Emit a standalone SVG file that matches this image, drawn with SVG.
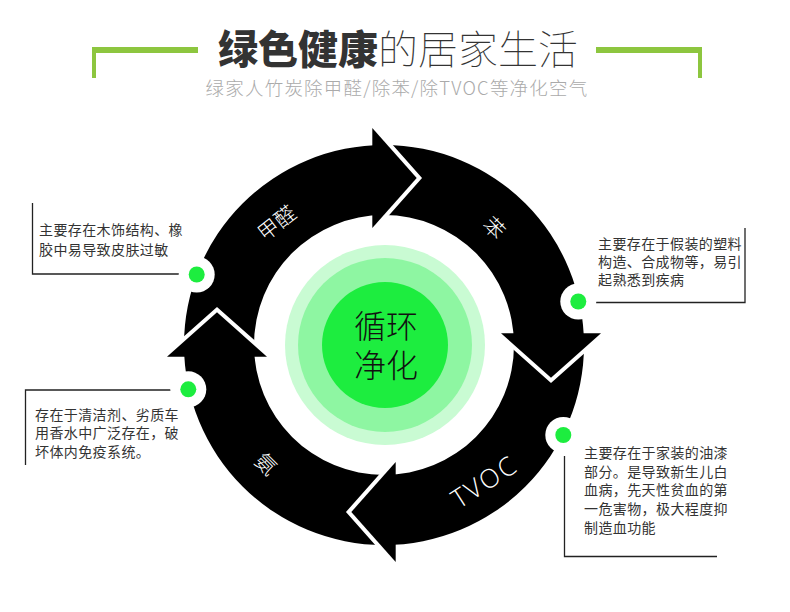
<svg xmlns="http://www.w3.org/2000/svg" width="790" height="612" viewBox="0 0 790 612">
  <style>
    .cjk { font-family: "Noto Sans CJK SC", "Noto Sans", sans-serif; }
    .desc { font-family: "Noto Sans CJK SC", sans-serif; font-size: 14px; fill: #333; letter-spacing: 0.4px; }
    .lbl { font-family: "Noto Sans CJK SC", sans-serif; font-size: 21px; fill: #fff; text-anchor: middle; dominant-baseline: central; }
    .lead { fill: none; stroke: #222; stroke-width: 1.3; }
    .gap { fill: none; stroke: #fff; stroke-width: 8; stroke-linejoin: miter; stroke-miterlimit: 10; }
    .head { fill: #000; }
    .halo { fill: #fff; }
    .dot { fill: #1ded3f; }
    .bracket { fill: #8dc63f; }
  </style>
  <rect width="790" height="612" fill="#fff"/>

  <g id="title">
    <rect class="bracket" x="92" y="47" width="106" height="6"/>
    <rect class="bracket" x="92" y="47" width="4" height="31"/>
    <rect class="bracket" x="596" y="47" width="106" height="6"/>
    <rect class="bracket" x="698" y="47" width="4" height="31"/>
    <text x="218" y="64" class="cjk" font-size="40" fill="#333"><tspan font-weight="900">绿色健康</tspan><tspan font-weight="100">的居家生活</tspan></text>
    <text x="397" y="95" class="cjk" font-size="18.5" fill="#aaa" font-weight="300" text-anchor="middle" letter-spacing="1.2">绿家人竹炭除甲醛/除苯/除TVOC等净化空气</text>
  </g>

  <g id="node-cycle">
    <path d="M584,345 A200,200 0 1,1 184,345 A200,200 0 1,1 584,345 Z M514,345 A130,130 0 1,0 254,345 A130,130 0 1,0 514,345 Z" fill="#000" fill-rule="evenodd"/>
    <g id="head-1">
      <path class="gap" d="M372.3,128 L416.7,178 L372.3,228"/>
      <path class="head" d="M372.3,128 L416.7,178 L372.3,228 Z"/>
    </g>
    <g id="head-2" transform="rotate(90 384 345)">
      <path class="gap" d="M372.3,128 L416.7,178 L372.3,228"/>
      <path class="head" d="M372.3,128 L416.7,178 L372.3,228 Z"/>
    </g>
    <g id="head-3" transform="rotate(180 384 345)">
      <path class="gap" d="M372.3,128 L416.7,178 L372.3,228"/>
      <path class="head" d="M372.3,128 L416.7,178 L372.3,228 Z"/>
    </g>
    <g id="head-4" transform="rotate(270 384 345)">
      <path class="gap" d="M372.3,128 L416.7,178 L372.3,228"/>
      <path class="head" d="M372.3,128 L416.7,178 L372.3,228 Z"/>
    </g>
    <text class="lbl" transform="translate(276 222) rotate(-38)" font-weight="300">甲醛</text>
    <text class="lbl" transform="translate(495 227) rotate(45)" font-weight="300">苯</text>
    <text class="lbl" transform="translate(484 481) rotate(-33)" style="font-family:'Open Sans','Liberation Sans',sans-serif;font-weight:300;font-size:26px;letter-spacing:2px">TVOC</text>
    <text class="lbl" transform="translate(267 463) rotate(45)" font-weight="300">氨</text>
  </g>

  <g id="node-center">
    <circle cx="385" cy="345" r="100" fill="#c9fbd3"/>
    <circle cx="385" cy="345" r="87" fill="#8ef6a2"/>
    <circle cx="385" cy="345" r="63" fill="#1ded3f"/>
    <text class="cjk" font-size="32" font-weight="300" fill="#111" text-anchor="middle"><tspan x="386" y="338">循环</tspan><tspan x="386" y="377">净化</tspan></text>
  </g>

  <g id="connectors">
    <path class="lead" d="M186,274 H32.5 V203"/>
    <path class="lead" d="M593,302.5 H745 V228"/>
    <path class="lead" d="M180,390 H25.5 V465"/>
    <path class="lead" d="M564.5,456 V556.5 H717"/>
  </g>

  <g id="node-dot-1">
    <circle class="halo" cx="196.7" cy="274.5" r="18"/>
    <circle class="dot" cx="196.7" cy="274.5" r="8"/>
  </g>
  <g id="node-dot-2">
    <circle class="halo" cx="578.3" cy="301.5" r="18"/>
    <circle class="dot" cx="578.3" cy="301.5" r="8"/>
  </g>
  <g id="node-dot-3">
    <circle class="halo" cx="563.3" cy="435" r="18"/>
    <circle class="dot" cx="563.3" cy="435" r="8"/>
  </g>
  <g id="node-dot-4">
    <circle class="halo" cx="188.3" cy="389.3" r="18"/>
    <circle class="dot" cx="188.3" cy="389.3" r="8"/>
  </g>

  <g id="node-box-1">
    <text class="desc" x="39" y="235.3">主要存在木饰结构、橡</text>
    <text class="desc" x="39" y="254.6">胶中易导致皮肤过敏</text>
  </g>
  <g id="node-box-2">
    <text class="desc" x="598" y="248.6">主要存在于假装的塑料</text>
    <text class="desc" x="598" y="267">构造、合成物等，易引</text>
    <text class="desc" x="598" y="285.3">起熟悉到疾病</text>
  </g>
  <g id="node-box-3">
    <text class="desc" x="35" y="419.5">存在于清洁剂、劣质车</text>
    <text class="desc" x="35" y="438">用香水中广泛存在，破</text>
    <text class="desc" x="35" y="456.5">坏体内免疫系统。</text>
  </g>
  <g id="node-box-4">
    <text class="desc" x="584" y="457.6">主要存在于家装的油漆</text>
    <text class="desc" x="584" y="476.5">部分。是导致新生儿白</text>
    <text class="desc" x="584" y="495.4">血病，先天性贫血的第</text>
    <text class="desc" x="584" y="514.4">一危害物，极大程度抑</text>
    <text class="desc" x="584" y="533.4">制造血功能</text>
  </g>
</svg>
